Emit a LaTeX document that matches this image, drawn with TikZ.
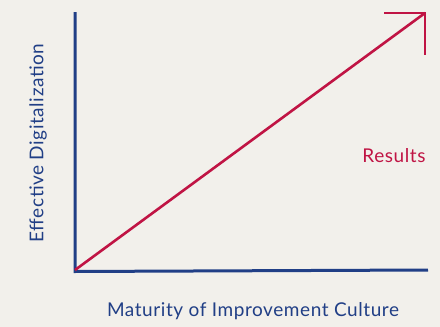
\documentclass[tikz,border=0pt]{standalone}
\usepackage{fontspec}
\setmainfont{Lato}[LetterSpace=3]
\definecolor{bg}{HTML}{F2F0EB}
\definecolor{axisblue}{HTML}{213F86}
\definecolor{resred}{HTML}{C01444}
\begin{document}
\begin{tikzpicture}[x=1pt,y=-1pt,
  axis/.style={draw=axisblue,line width=3pt},
  resline/.style={draw=resred,line width=2.6pt},
  lbl/.style={text=axisblue,font=\fontsize{19}{22}\selectfont,inner sep=0pt},
  redlbl/.style={text=resred,font=\fontsize{19}{22}\selectfont,inner sep=0pt}]
\fill[bg] (0,0) rectangle (440,327);
\useasboundingbox (0,0) rectangle (440,327);
\coordinate (o) at (75,270);
\coordinate (ytop) at (75,12);
\coordinate (xend) at (428,270);
\coordinate (tip) at (425,13);
\coordinate (hl) at (384,13);
\coordinate (vl) at (425,55);
\draw[axis] (ytop) -- (75,271.5) -- (xend);
\draw[resline,line cap=butt] (o) -- (tip);
\draw[resline,line cap=butt,line join=miter] (hl) -- (tip) -- (vl);
\node[lbl] (xlab) at (253,311) {Maturity of Improvement Culture};
\node[lbl,rotate=90] (ylab) at (38,143) {Effective Digitalization};
\node[redlbl] (res) at (394,156) {Results};
\end{tikzpicture}
\end{document}
